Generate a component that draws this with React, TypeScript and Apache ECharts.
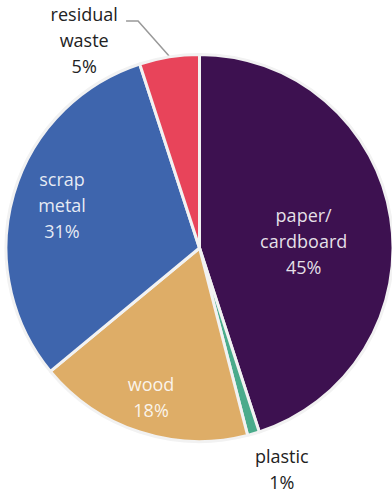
import React, { useEffect, useRef } from "react";
import * as echarts from "echarts";

const categories = ["paper/\ncardboard", "plastic", "wood", "scrap\nmetal", "residual\nwaste"];
const values = [45, 1, 18, 31, 5];
const colors = ["#3d1150", "#4aab8b", "#dead67", "#3e65ad", "#e8445a"];
const inside = [true, false, true, true, false];
// label placement: fraction of radius along the slice's mid-angle, plus a small nudge
const labelFrac = [0.545, 1.19, 0.81, 0.74, 1.1];
const labelNudge: [number, number][] = [[0, 9], [18, 0], [0, 0], [0, -3], [-82, 2]];

const CX = 199.5;
const CY = 248;
const R = 193.5;

export default function App() {
  const ref = useRef<HTMLDivElement>(null);
  useEffect(() => {
    if (!ref.current) return;
    const chart = echarts.init(ref.current, null, { renderer: "svg" });
    const total = values.reduce((a, b) => a + b, 0);
    const midAngle = (i: number) => {
      const before = values.slice(0, i).reduce((a, b) => a + b, 0);
      return ((before + values[i] / 2) / total) * Math.PI * 2;
    };
    chart.setOption({
      animation: false,
      series: [
        {
          type: "pie",
          center: [CX, CY],
          radius: R,
          startAngle: 90,
          clockwise: true,
          avoidLabelOverlap: false,
          itemStyle: { borderColor: "#f2f2f2", borderWidth: 3 },
          labelLine: { show: false },
          data: categories.map((name, i) => ({
            name,
            value: values[i],
            itemStyle: { color: colors[i] },
            label: {
              show: true,
              position: inside[i] ? "inside" : "outside",
              formatter: (p: any) => `${p.name}\n${p.value}%`,
              fontFamily: "Open Sans",
              fontSize: 18,
              lineHeight: 26,
              align: "center",
              color: inside[i] ? "rgba(255,255,255,0.88)" : "#222",
            },
            labelLine:
              i === 4
                ? { show: true, lineStyle: { color: "#999", width: 1.5 } }
                : { show: false },
          })),
          labelLayout: (p: any) => {
            const i = p.dataIndex;
            const a = midAngle(i);
            const dx = Math.sin(a);
            const dy = -Math.cos(a);
            const x = CX + dx * R * labelFrac[i] + labelNudge[i][0];
            const y = CY + dy * R * labelFrac[i] + labelNudge[i][1];
            const res: any = { x, y, align: "center", verticalAlign: "middle" };
            if (i === 4) {
              const ex = CX + dx * (R + 1);
              const ey = CY + dy * (R + 1);
              res.labelLinePoints = [
                [ex, ey],
                [ex - 31, ey - 35],
                [ex - 43, ey - 35],
              ];
            }
            return res;
          },
        },
      ],
    });
    return () => chart.dispose();
  }, []);
  return (
    <div
      ref={ref}
      style={{ position: "fixed", left: 0, top: 0, width: 392, height: 493, background: "#fff" }}
    />
  );
}
